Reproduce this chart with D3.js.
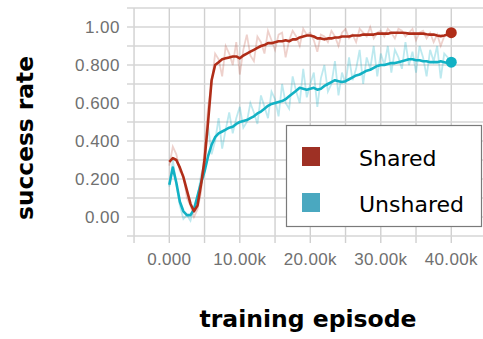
<!DOCTYPE html>
<html><head><meta charset="utf-8">
<script src="https://cdn.jsdelivr.net/npm/d3@7"></script>
<style>html,body{margin:0;padding:0;background:#fff;}svg{display:block;}</style>
</head><body>
<svg id="chart" width="483" height="339"></svg>
<script>
const episodes = [0,0.5,1,1.5,2,2.5,3,3.5,4,4.5,5,5.5,6,6.5,7,7.5,8,8.5,9,9.5,10,10.5,11,11.5,12,12.5,13,13.5,14,14.5,15,15.5,16,16.5,17,17.5,18,18.5,19,19.5,20,20.5,21,21.5,22,22.5,23,23.5,24,24.5,25,25.5,26,26.5,27,27.5,28,28.5,29,29.5,30,30.5,31,31.5,32,32.5,33,33.5,34,34.5,35,35.5,36,36.5,37,37.5,38,38.5,39,39.5,40];
const sharedRaw = [0.27,0.37,0.33,0.24,0.22,0.10,0.06,0.00,0.04,0.13,0.36,0.58,0.70,0.86,0.83,0.74,0.90,0.86,0.80,0.92,0.75,0.88,0.96,0.85,0.82,0.95,0.92,0.86,0.98,0.93,0.88,0.96,0.97,0.84,0.93,0.98,0.95,0.90,0.99,0.96,0.97,0.93,0.87,0.96,0.95,0.92,0.98,0.95,0.90,0.97,0.99,0.94,0.96,0.92,0.99,0.97,0.95,1.00,0.94,0.97,0.98,0.95,0.99,0.97,0.94,0.99,0.98,0.95,0.97,0.99,0.93,0.97,0.98,0.94,0.97,0.92,0.96,0.90,0.95,0.97,0.96];
const sharedSmooth = [0.29,0.31,0.30,0.26,0.21,0.14,0.07,0.03,0.06,0.17,0.30,0.50,0.72,0.80,0.815,0.83,0.835,0.84,0.845,0.845,0.835,0.85,0.86,0.87,0.88,0.89,0.90,0.905,0.915,0.915,0.92,0.925,0.925,0.93,0.925,0.935,0.935,0.945,0.95,0.955,0.955,0.95,0.94,0.94,0.935,0.94,0.94,0.945,0.945,0.95,0.95,0.95,0.955,0.955,0.955,0.96,0.96,0.96,0.96,0.965,0.965,0.965,0.965,0.97,0.97,0.97,0.97,0.968,0.965,0.965,0.965,0.965,0.965,0.962,0.96,0.96,0.955,0.952,0.955,0.96,0.97];
const unsharedRaw = [0.16,0.30,0.17,0.06,-0.01,0.01,-0.02,0.05,0.10,0.22,0.28,0.48,0.33,0.40,0.52,0.36,0.46,0.55,0.44,0.52,0.58,0.47,0.50,0.60,0.55,0.49,0.64,0.58,0.52,0.66,0.62,0.53,0.70,0.60,0.57,0.74,0.66,0.60,0.78,0.63,0.70,0.76,0.58,0.73,0.80,0.66,0.70,0.82,0.64,0.76,0.70,0.84,0.72,0.78,0.88,0.70,0.84,0.78,0.90,0.74,0.86,0.80,0.90,0.76,0.88,0.84,0.78,0.92,0.80,0.87,0.76,0.90,0.84,0.74,0.88,0.82,0.90,0.73,0.86,0.84,0.80];
const unsharedSmooth = [0.17,0.26,0.18,0.08,0.03,0.01,0.01,0.04,0.11,0.18,0.24,0.32,0.38,0.42,0.44,0.45,0.46,0.47,0.475,0.49,0.50,0.505,0.51,0.52,0.53,0.545,0.555,0.57,0.585,0.595,0.60,0.605,0.61,0.62,0.635,0.65,0.665,0.68,0.675,0.67,0.675,0.68,0.67,0.675,0.69,0.70,0.71,0.72,0.715,0.71,0.715,0.725,0.735,0.745,0.75,0.76,0.77,0.775,0.785,0.795,0.80,0.80,0.805,0.81,0.81,0.815,0.82,0.825,0.83,0.83,0.825,0.825,0.82,0.82,0.815,0.815,0.815,0.82,0.815,0.81,0.815];
const seriesNames = ["Shared","Unshared"];
const xTicks = [0,10,20,30,40];
const xTickLabels = ["0.000","10.00k","20.00k","30.00k","40.00k"];
const yTicks = [0,0.2,0.4,0.6,0.8,1.0];
const yTickLabels = ["0.00","0.200","0.400","0.600","0.800","1.00"];

const lineColors = ["#b02d18","#12b1c4"];
const legendColors = ["#9e3024","#4aa8c0"];

const svg = d3.select("#chart");
const x = d3.scaleLinear().domain([-6, 44.5]).range([127, 483]);
const y = d3.scaleLinear().domain([-0.1, 1.1]).range([236, 8]);

// grid
const g = svg.append("g");
const xGrid = d3.range(-5, 45, 5);
g.selectAll(".vg").data(xGrid).enter().append("line")
  .attr("x1", d => x(d)).attr("x2", d => x(d))
  .attr("y1", y(1.1)).attr("y2", y(-0.1) + 7)
  .attr("stroke", "#d0d0d0").attr("stroke-width", 1.4);
const yGrid = d3.range(-1, 12).map(d => d / 10);
g.selectAll(".hg").data(yGrid).enter().append("line")
  .attr("x1", x(-6)).attr("x2", 483)
  .attr("y1", d => y(d)).attr("y2", d => y(d))
  .attr("stroke", "#d6d6d6").attr("stroke-width", 1.4);

// tick labels
svg.selectAll(".yl").data(yTicks).enter().append("text")
  .attr("x", 120).attr("y", d => y(d) + 6)
  .attr("text-anchor", "end")
  .attr("font-family", "Liberation Sans, Arial, sans-serif")
  .attr("font-size", 17).attr("letter-spacing", 0.5)
  .attr("fill", "#707070")
  .text((d, i) => yTickLabels[i]);
svg.selectAll(".xl").data(xTicks).enter().append("text")
  .attr("x", d => x(d)).attr("y", 265)
  .attr("text-anchor", "middle")
  .attr("font-family", "Liberation Sans, Arial, sans-serif")
  .attr("font-size", 17).attr("letter-spacing", 0.3)
  .attr("fill", "#707070")
  .text((d, i) => xTickLabels[i]);

// lines
const line = d3.line().x(d => x(d[0])).y(d => y(d[1]));
const raws = [sharedRaw, unsharedRaw];
const smooths = [sharedSmooth, unsharedSmooth];
[1, 0].forEach(i => {
  svg.append("path").datum(episodes.map((e, j) => [e, raws[i][j]]))
    .attr("d", line).attr("fill", "none")
    .attr("stroke", lineColors[i]).attr("stroke-opacity", i === 0 ? 0.22 : 0.28)
    .attr("stroke-width", 1.8);
});
[1, 0].forEach(i => {
  svg.append("path").datum(episodes.map((e, j) => [e, smooths[i][j]]))
    .attr("d", line).attr("fill", "none")
    .attr("stroke", lineColors[i]).attr("stroke-width", 2.6)
    .attr("stroke-linejoin", "round");
  const last = episodes.length - 1;
  svg.append("circle")
    .attr("cx", x(episodes[last])).attr("cy", y(smooths[i][last]))
    .attr("r", 5.5).attr("fill", lineColors[i]);
});

// axis titles
svg.append("text")
  .attr("transform", "translate(33,138) rotate(-90)")
  .attr("text-anchor", "middle")
  .attr("font-family", "DejaVu Sans, sans-serif").attr("font-weight", "bold")
  .attr("font-size", 23.3).attr("fill", "#000")
  .text("success rate");
svg.append("text")
  .attr("x", 308).attr("y", 327)
  .attr("text-anchor", "middle")
  .attr("font-family", "DejaVu Sans, sans-serif").attr("font-weight", "bold")
  .attr("font-size", 23.5).attr("fill", "#000")
  .text("training episode");

// legend
const lg = svg.append("g");
lg.append("rect").attr("x", 286.5).attr("y", 125.5).attr("width", 195).attr("height", 101)
  .attr("fill", "#fff").attr("stroke", "#7a7a7a").attr("stroke-width", 1.2);
seriesNames.forEach((name, i) => {
  lg.append("rect").attr("x", 302).attr("y", 147 + i * 46).attr("width", 18).attr("height", 19)
    .attr("fill", legendColors[i]);
  lg.append("text").attr("x", 359).attr("y", 166 + i * 46)
    .attr("font-family", "DejaVu Sans, sans-serif").attr("font-size", 22)
    .attr("fill", "#000").text(name);
});
</script>
</body></html>
